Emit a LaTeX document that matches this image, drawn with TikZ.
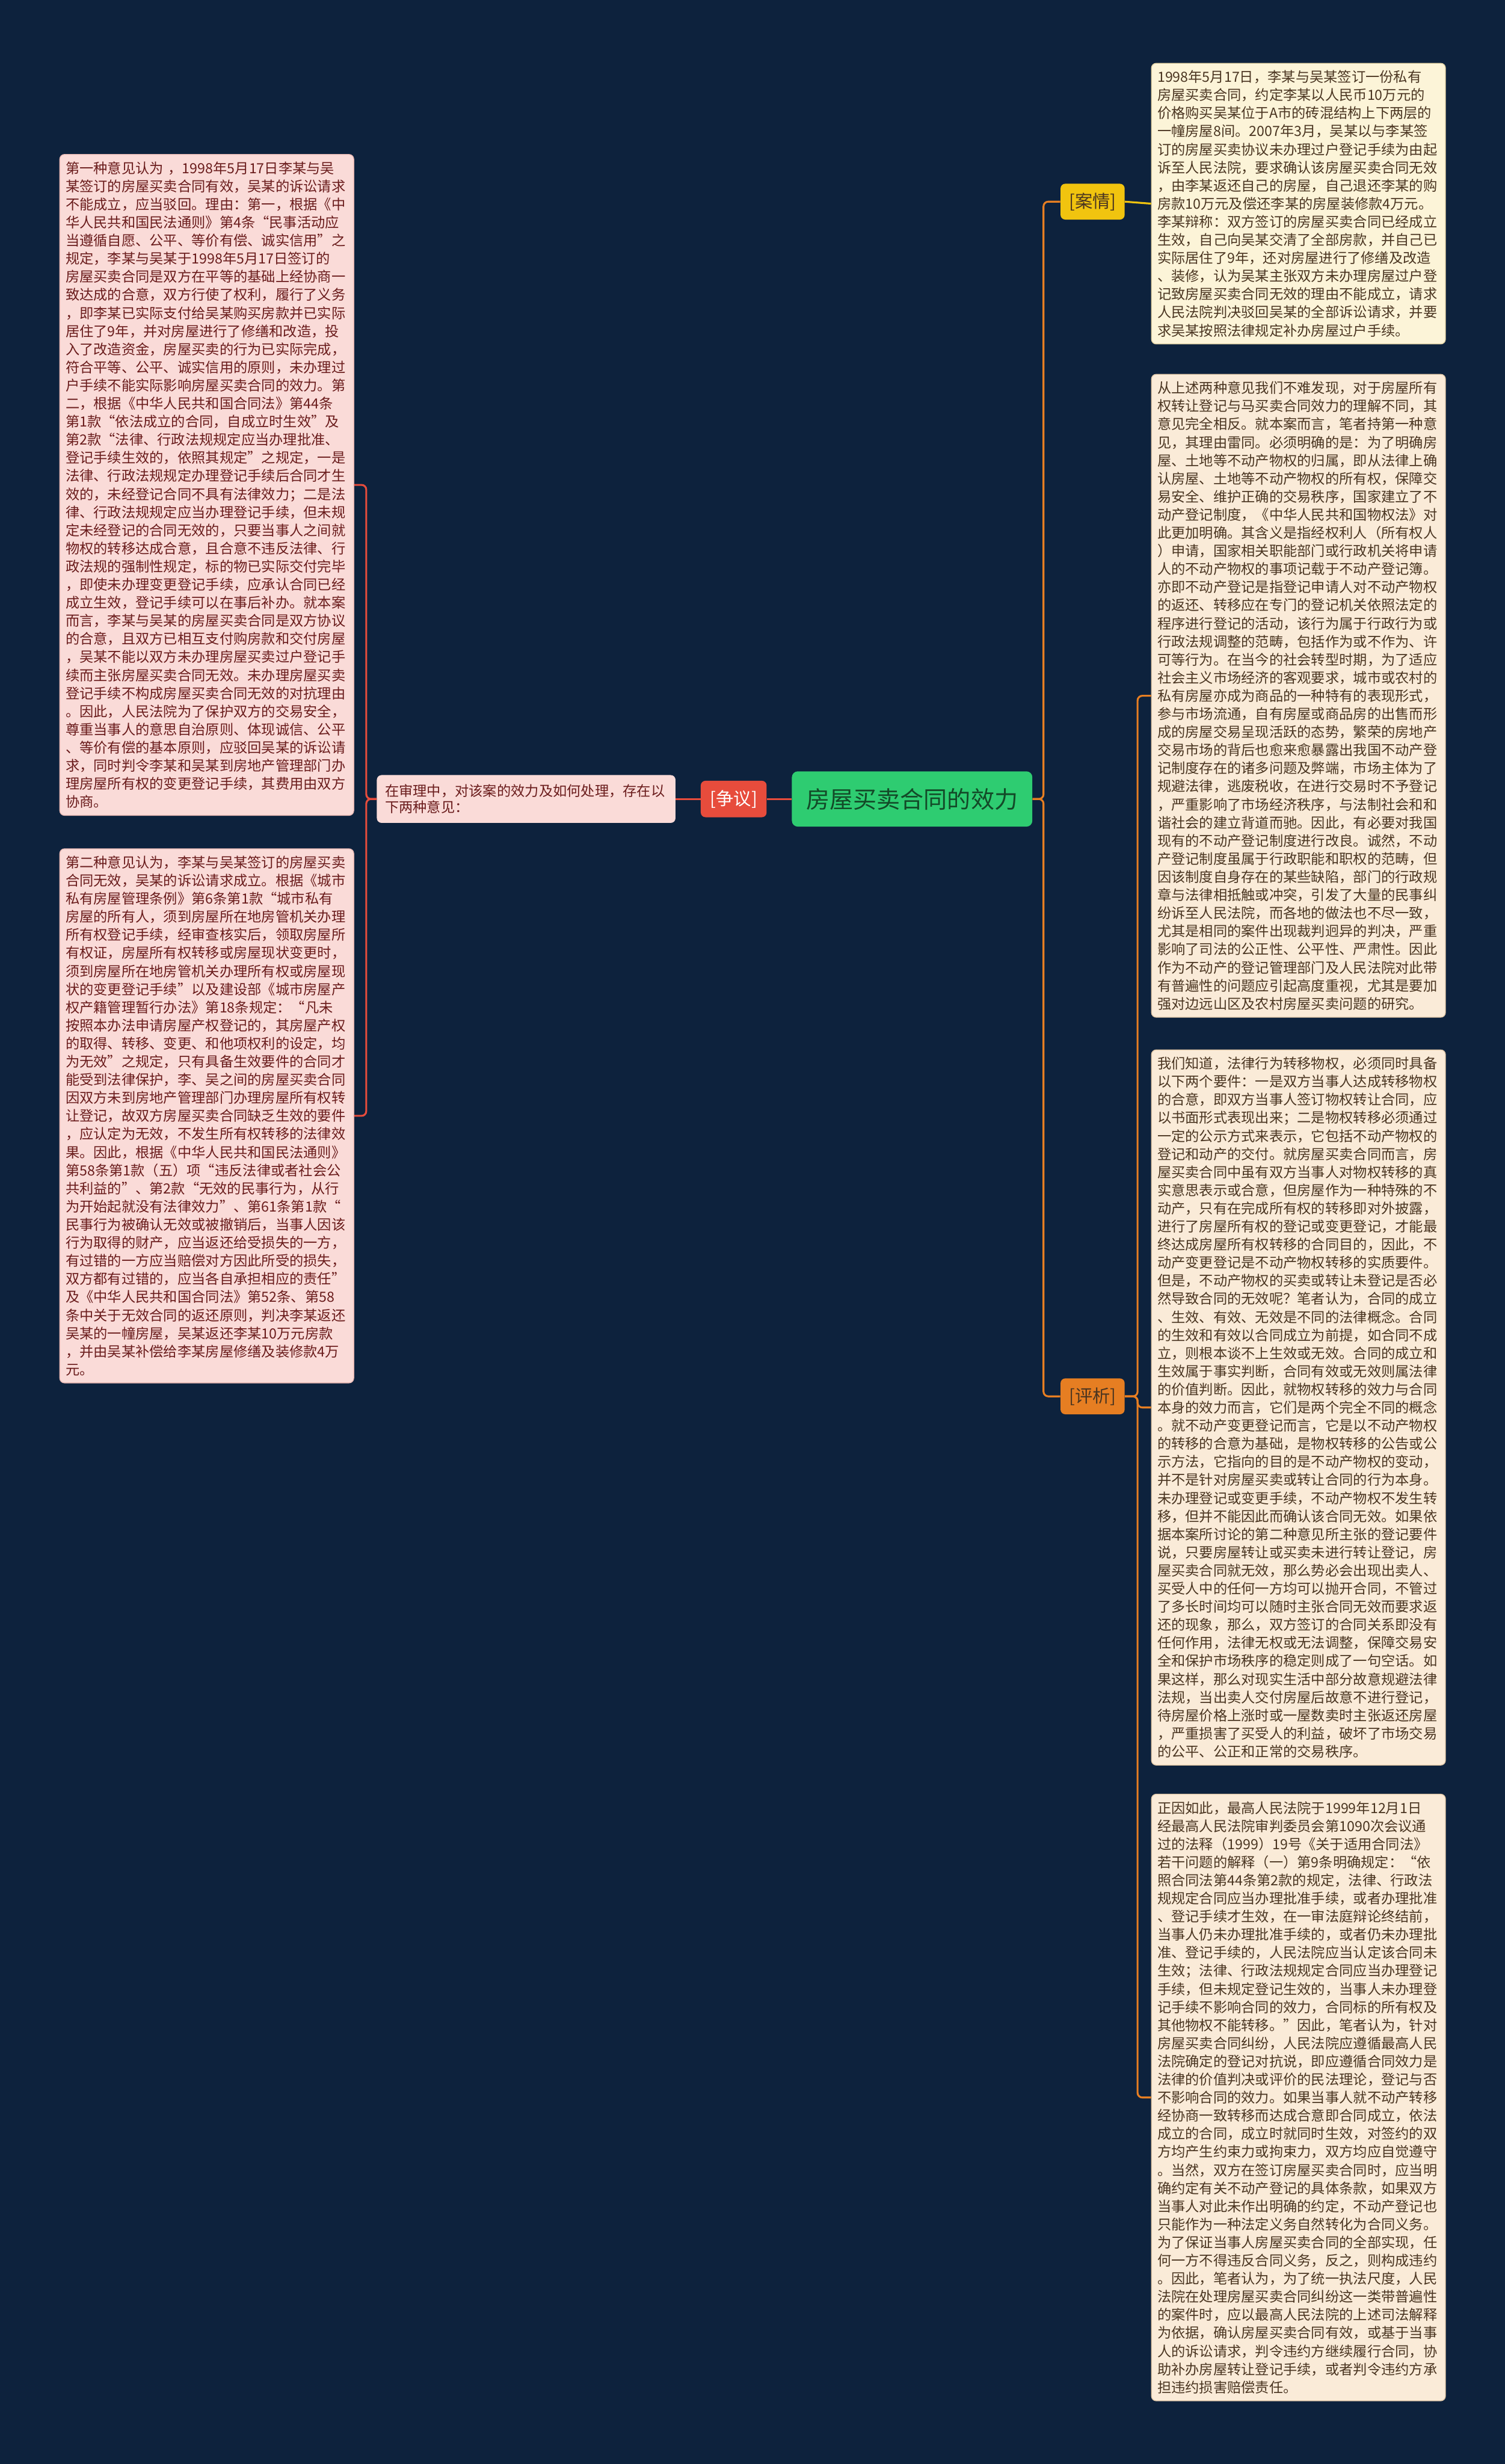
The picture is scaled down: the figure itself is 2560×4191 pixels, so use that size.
\documentclass[tikz,border=0pt]{standalone}
\usepackage{fontspec}
\setmainfont{Noto Sans CJK SC}
\setlength{\parindent}{0pt}

\definecolor{fondo}{HTML}{0D223D}
\definecolor{verde}{HTML}{2ECC71}
\definecolor{verdescuro}{HTML}{134A28}
\definecolor{rosso}{HTML}{E74C3C}
\definecolor{rosa}{HTML}{FADBD8}
\definecolor{rosabordo}{HTML}{E9B9B4}
\definecolor{testorosso}{HTML}{6A1C1C}
\definecolor{giallo}{HTML}{F1C40F}
\definecolor{arancio}{HTML}{E67E22}
\definecolor{crema}{HTML}{FCF4D8}
\definecolor{cremabordo}{HTML}{E3D3A4}
\definecolor{pesca}{HTML}{FAEBD8}
\definecolor{pescabordo}{HTML}{E2C9A8}
\definecolor{marrone}{HTML}{4A3521}

\begin{document}
\begin{tikzpicture}[x=0.5pt,y=-0.5pt,
  box/.style={rounded corners=4pt,align=left,text width=240pt,inner xsep=5pt,inner ysep=6pt,
    line width=0.7pt,font=\fontsize{11.9pt}{15.4pt}\selectfont},
  sinistra/.style={box,fill=rosa,draw=rosabordo,text=testorosso},
  destra/.style={box,fill=pesca,draw=pescabordo,text=marrone},
  etichetta/.style={rounded corners=4pt,minimum width=54.5pt,minimum height=30.5pt,inner sep=0pt,
    font=\fontsize{15pt}{18pt}\selectfont},
  ramo/.style={line width=1.6pt,rounded corners=4pt}]

\fill[fondo] (0,0) rectangle (2560,4191);
\useasboundingbox (0,0) rectangle (2560,4191);

\node[fill=verde,rounded corners=5pt,minimum width=204.5pt,minimum height=47pt,text=verdescuro,
  font=\fontsize{20pt}{24pt}\selectfont] (tema) at (1551.5,1359) {房屋买卖合同的效力};

\node[etichetta,fill=rosso,text=white,minimum width=56pt,minimum height=31pt] (zy) at (1248,1359) {[争议]};
\node[fill=rosa,rounded corners=4pt,align=left,text width=240pt,inner xsep=7pt,inner ysep=7.7pt,
  text=testorosso,font=\fontsize{11.9pt}{14.2pt}\selectfont] (nota) at (895,1359)
  {在审理中，对该案的效力及如何处理，存在以\\下两种意见：};

\node[sinistra,anchor=north west] (op1) at (101,262) {第一种意见认为 ，1998年5月17日李某与吴\\
某签订的房屋买卖合同有效，吴某的诉讼请求\\
不能成立，应当驳回。理由：第一，根据《中\\
华人民共和国民法通则》第4条“民事活动应\\
当遵循自愿、公平、等价有偿、诚实信用”之\\
规定，李某与吴某于1998年5月17日签订的\\
房屋买卖合同是双方在平等的基础上经协商一\\
致达成的合意，双方行使了权利，履行了义务\\
，即李某已实际支付给吴某购买房款并已实际\\
居住了9年，并对房屋进行了修缮和改造，投\\
入了改造资金，房屋买卖的行为已实际完成，\\
符合平等、公平、诚实信用的原则，未办理过\\
户手续不能实际影响房屋买卖合同的效力。第\\
二，根据《中华人民共和国合同法》第44条\\
第1款“依法成立的合同，自成立时生效”及\\
第2款“法律、行政法规规定应当办理批准、\\
登记手续生效的，依照其规定”之规定，一是\\
法律、行政法规规定办理登记手续后合同才生\\
效的，未经登记合同不具有法律效力；二是法\\
律、行政法规规定应当办理登记手续，但未规\\
定未经登记的合同无效的，只要当事人之间就\\
物权的转移达成合意，且合意不违反法律、行\\
政法规的强制性规定，标的物已实际交付完毕\\
，即使未办理变更登记手续，应承认合同已经\\
成立生效，登记手续可以在事后补办。就本案\\
而言，李某与吴某的房屋买卖合同是双方协议\\
的合意，且双方已相互支付购房款和交付房屋\\
，吴某不能以双方未办理房屋买卖过户登记手\\
续而主张房屋买卖合同无效。未办理房屋买卖\\
登记手续不构成房屋买卖合同无效的对抗理由\\
。因此，人民法院为了保护双方的交易安全，\\
尊重当事人的意思自治原则、体现诚信、公平\\
、等价有偿的基本原则，应驳回吴某的诉讼请\\
求，同时判令李某和吴某到房地产管理部门办\\
理房屋所有权的变更登记手续，其费用由双方\\
协商。};

\node[sinistra,anchor=north west] (op2) at (101,1443) {第二种意见认为，李某与吴某签订的房屋买卖\\
合同无效，吴某的诉讼请求成立。根据《城市\\
私有房屋管理条例》第6条第1款“城市私有\\
房屋的所有人，须到房屋所在地房管机关办理\\
所有权登记手续，经审查核实后，领取房屋所\\
有权证，房屋所有权转移或房屋现状变更时，\\
须到房屋所在地房管机关办理所有权或房屋现\\
状的变更登记手续”以及建设部《城市房屋产\\
权产籍管理暂行办法》第18条规定：“凡未\\
按照本办法申请房屋产权登记的，其房屋产权\\
的取得、转移、变更、和他项权利的设定，均\\
为无效”之规定，只有具备生效要件的合同才\\
能受到法律保护，李、吴之间的房屋买卖合同\\
因双方未到房地产管理部门办理房屋所有权转\\
让登记，故双方房屋买卖合同缺乏生效的要件\\
，应认定为无效，不发生所有权转移的法律效\\
果。因此，根据《中华人民共和国民法通则》\\
第58条第1款（五）项“违反法律或者社会公\\
共利益的”、第2款“无效的民事行为，从行\\
为开始起就没有法律效力”、第61条第1款“\\
民事行为被确认无效或被撤销后，当事人因该\\
行为取得的财产，应当返还给受损失的一方，\\
有过错的一方应当赔偿对方因此所受的损失，\\
双方都有过错的，应当各自承担相应的责任”\\
及《中华人民共和国合同法》第52条、第58\\
条中关于无效合同的返还原则，判决李某返还\\
吴某的一幢房屋，吴某返还李某10万元房款\\
，并由吴某补偿给李某房屋修缮及装修款4万\\
元。};

\node[etichetta,fill=giallo,text=marrone] (aq) at (1858.5,343) {[案情]};
\node[etichetta,fill=arancio,text=marrone] (px) at (1858.5,2375) {[评析]};

\node[box,fill=crema,draw=cremabordo,text=marrone,anchor=north west] (caso) at (1958,107) {1998年5月17日，李某与吴某签订一份私有\\
房屋买卖合同，约定李某以人民币10万元的\\
价格购买吴某位于A市的砖混结构上下两层的\\
一幢房屋8间。2007年3月，吴某以与李某签\\
订的房屋买卖协议未办理过户登记手续为由起\\
诉至人民法院，要求确认该房屋买卖合同无效\\
，由李某返还自己的房屋，自己退还李某的购\\
房款10万元及偿还李某的房屋装修款4万元。\\
李某辩称：双方签订的房屋买卖合同已经成立\\
生效，自己向吴某交清了全部房款，并自己已\\
实际居住了9年，还对房屋进行了修缮及改造\\
、装修，认为吴某主张双方未办理房屋过户登\\
记致房屋买卖合同无效的理由不能成立，请求\\
人民法院判决驳回吴某的全部诉讼请求，并要\\
求吴某按照法律规定补办房屋过户手续。};

\node[destra,anchor=north west] (pa1) at (1958,636) {从上述两种意见我们不难发现，对于房屋所有\\
权转让登记与马买卖合同效力的理解不同，其\\
意见完全相反。就本案而言，笔者持第一种意\\
见，其理由雷同。必须明确的是：为了明确房\\
屋、土地等不动产物权的归属，即从法律上确\\
认房屋、土地等不动产物权的所有权，保障交\\
易安全、维护正确的交易秩序，国家建立了不\\
动产登记制度，《中华人民共和国物权法》对\\
此更加明确。其含义是指经权利人（所有权人\\
）申请，国家相关职能部门或行政机关将申请\\
人的不动产物权的事项记载于不动产登记簿。\\
亦即不动产登记是指登记申请人对不动产物权\\
的返还、转移应在专门的登记机关依照法定的\\
程序进行登记的活动，该行为属于行政行为或\\
行政法规调整的范畴，包括作为或不作为、许\\
可等行为。在当今的社会转型时期，为了适应\\
社会主义市场经济的客观要求，城市或农村的\\
私有房屋亦成为商品的一种特有的表现形式，\\
参与市场流通，自有房屋或商品房的出售而形\\
成的房屋交易呈现活跃的态势，繁荣的房地产\\
交易市场的背后也愈来愈暴露出我国不动产登\\
记制度存在的诸多问题及弊端，市场主体为了\\
规避法律，逃废税收，在进行交易时不予登记\\
，严重影响了市场经济秩序，与法制社会和和\\
谐社会的建立背道而驰。因此，有必要对我国\\
现有的不动产登记制度进行改良。诚然，不动\\
产登记制度虽属于行政职能和职权的范畴，但\\
因该制度自身存在的某些缺陷，部门的行政规\\
章与法律相抵触或冲突，引发了大量的民事纠\\
纷诉至人民法院，而各地的做法也不尽一致，\\
尤其是相同的案件出现裁判迥异的判决，严重\\
影响了司法的公正性、公平性、严肃性。因此\\
作为不动产的登记管理部门及人民法院对此带\\
有普遍性的问题应引起高度重视，尤其是要加\\
强对边远山区及农村房屋买卖问题的研究。};

\node[destra,anchor=north west] (pa2) at (1958,1785) {我们知道，法律行为转移物权，必须同时具备\\
以下两个要件：一是双方当事人达成转移物权\\
的合意，即双方当事人签订物权转让合同，应\\
以书面形式表现出来；二是物权转移必须通过\\
一定的公示方式来表示，它包括不动产物权的\\
登记和动产的交付。就房屋买卖合同而言，房\\
屋买卖合同中虽有双方当事人对物权转移的真\\
实意思表示或合意，但房屋作为一种特殊的不\\
动产，只有在完成所有权的转移即对外披露，\\
进行了房屋所有权的登记或变更登记，才能最\\
终达成房屋所有权转移的合同目的，因此，不\\
动产变更登记是不动产物权转移的实质要件。\\
但是，不动产物权的买卖或转让未登记是否必\\
然导致合同的无效呢？笔者认为，合同的成立\\
、生效、有效、无效是不同的法律概念。合同\\
的生效和有效以合同成立为前提，如合同不成\\
立，则根本谈不上生效或无效。合同的成立和\\
生效属于事实判断，合同有效或无效则属法律\\
的价值判断。因此，就物权转移的效力与合同\\
本身的效力而言，它们是两个完全不同的概念\\
。就不动产变更登记而言，它是以不动产物权\\
的转移的合意为基础，是物权转移的公告或公\\
示方法，它指向的目的是不动产物权的变动，\\
并不是针对房屋买卖或转让合同的行为本身。\\
未办理登记或变更手续，不动产物权不发生转\\
移，但并不能因此而确认该合同无效。如果依\\
据本案所讨论的第二种意见所主张的登记要件\\
说，只要房屋转让或买卖未进行转让登记，房\\
屋买卖合同就无效，那么势必会出现出卖人、\\
买受人中的任何一方均可以抛开合同，不管过\\
了多长时间均可以随时主张合同无效而要求返\\
还的现象，那么，双方签订的合同关系即没有\\
任何作用，法律无权或无法调整，保障交易安\\
全和保护市场秩序的稳定则成了一句空话。如\\
果这样，那么对现实生活中部分故意规避法律\\
法规，当出卖人交付房屋后故意不进行登记，\\
待房屋价格上涨时或一屋数卖时主张返还房屋\\
，严重损害了买受人的利益，破坏了市场交易\\
的公平、公正和正常的交易秩序。};

\node[destra,anchor=north west] (pa3) at (1958,3051) {正因如此，最高人民法院于1999年12月1日\\
经最高人民法院审判委员会第1090次会议通\\
过的法释（1999）19号《关于适用合同法》\\
若干问题的解释（一）第9条明确规定：“依\\
照合同法第44条第2款的规定，法律、行政法\\
规规定合同应当办理批准手续，或者办理批准\\
、登记手续才生效，在一审法庭辩论终结前，\\
当事人仍未办理批准手续的，或者仍未办理批\\
准、登记手续的，人民法院应当认定该合同未\\
生效；法律、行政法规规定合同应当办理登记\\
手续，但未规定登记生效的，当事人未办理登\\
记手续不影响合同的效力，合同标的所有权及\\
其他物权不能转移。”因此，笔者认为，针对\\
房屋买卖合同纠纷，人民法院应遵循最高人民\\
法院确定的登记对抗说，即应遵循合同效力是\\
法律的价值判决或评价的民法理论，登记与否\\
不影响合同的效力。如果当事人就不动产转移\\
经协商一致转移而达成合意即合同成立，依法\\
成立的合同，成立时就同时生效，对签约的双\\
方均产生约束力或拘束力，双方均应自觉遵守\\
。当然，双方在签订房屋买卖合同时，应当明\\
确约定有关不动产登记的具体条款，如果双方\\
当事人对此未作出明确的约定，不动产登记也\\
只能作为一种法定义务自然转化为合同义务。\\
为了保证当事人房屋买卖合同的全部实现，任\\
何一方不得违反合同义务，反之，则构成违约\\
。因此，笔者认为，为了统一执法尺度，人民\\
法院在处理房屋买卖合同纠纷这一类带普遍性\\
的案件时，应以最高人民法院的上述司法解释\\
为依据，确认房屋买卖合同有效，或基于当事\\
人的诉讼请求，判令违约方继续履行合同，协\\
助补办房屋转让登记手续，或者判令违约方承\\
担违约损害赔偿责任。};

\coordinate (nodoL) at (623,1359);
\coordinate (nodoR) at (1775,1359);
\coordinate (nodoP) at (1935,2375);

\draw[ramo,rosso] (tema.west) -- (zy.east);
\draw[ramo,rosso] (zy.west) -- (nota.east);
\draw[ramo,rosso] (nota.west) -- (nodoL) |- (op1.east);
\draw[ramo,rosso] (nota.west) -- (nodoL) |- (op2.east);

\draw[ramo,arancio] (tema.east) -- (nodoR) |- (aq.west);
\draw[ramo,arancio] (tema.east) -- (nodoR) |- (px.west);
\draw[ramo,giallo] (aq.east) -- (caso.west);
\draw[ramo,arancio] (px.east) -- (nodoP) |- (pa1.west);
\draw[ramo,arancio] (px.east) -- (nodoP) |- (pa2.west);
\draw[ramo,arancio] (px.east) -- (nodoP) |- (pa3.west);

\end{tikzpicture}
\end{document}
